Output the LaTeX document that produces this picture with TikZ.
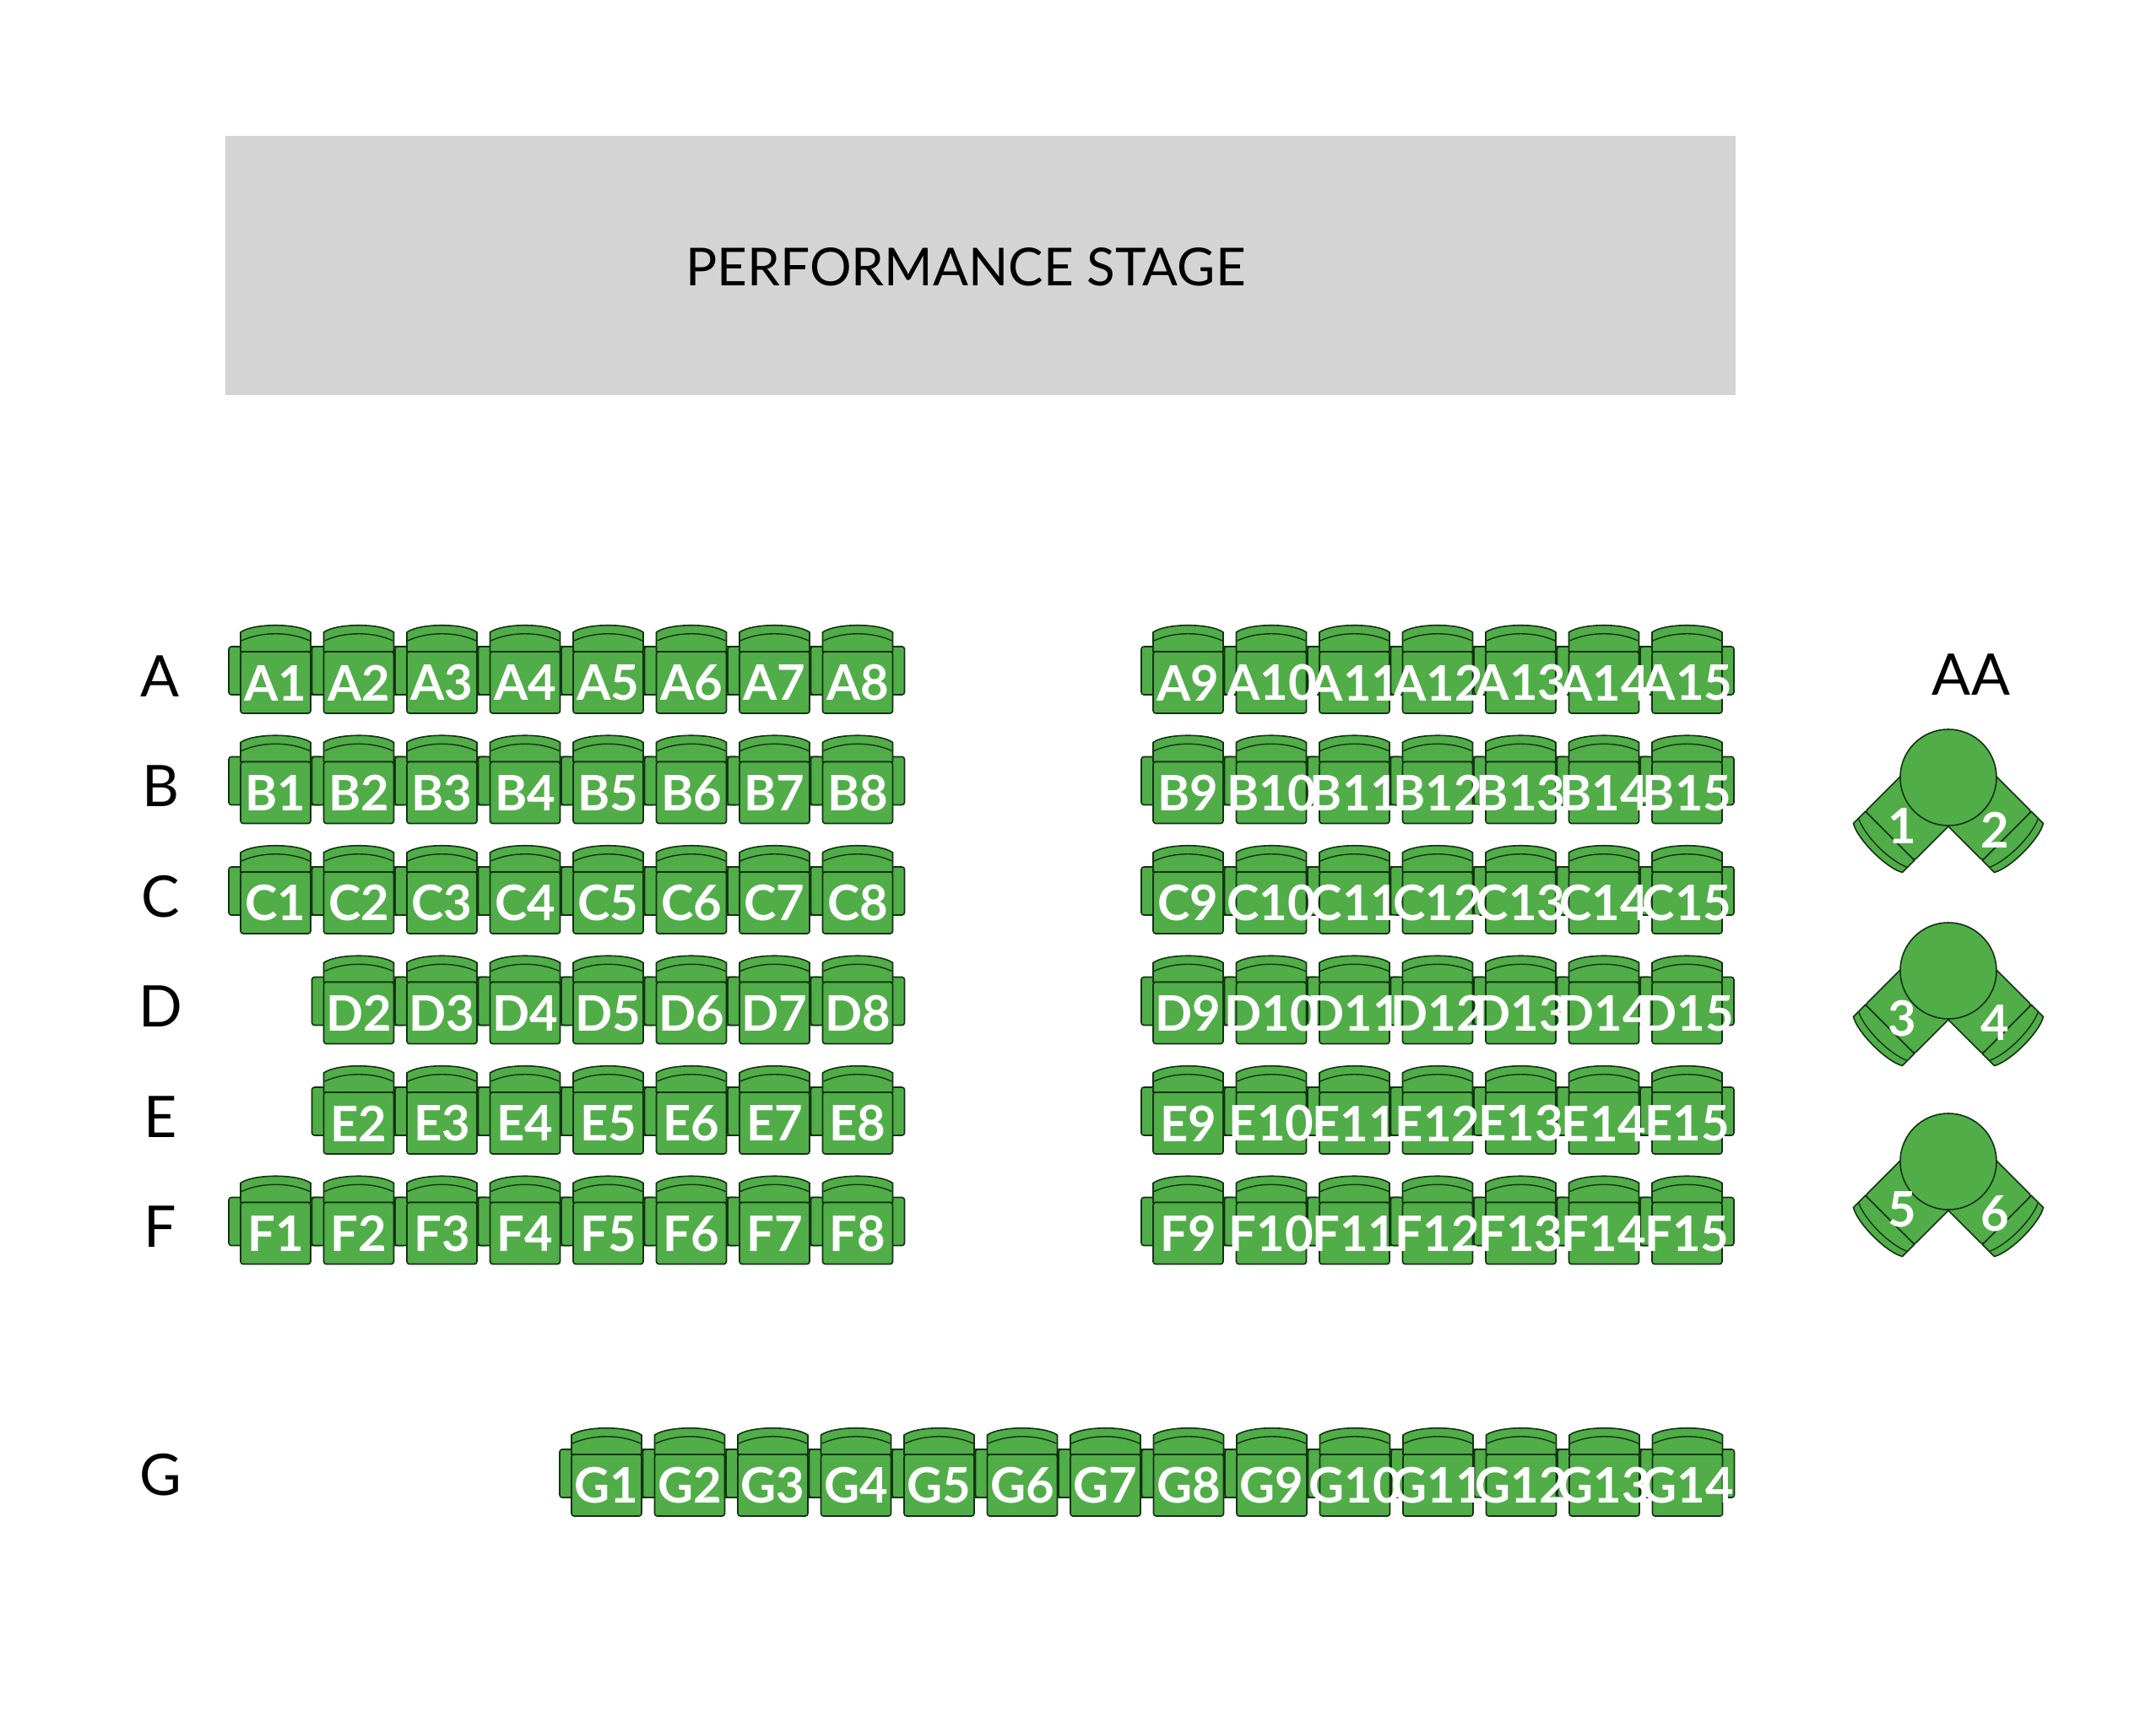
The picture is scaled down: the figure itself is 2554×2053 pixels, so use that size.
\documentclass[tikz,border=0pt]{standalone}
\usepackage{fontspec}
\setmainfont{Lato}
\definecolor{seatgreen}{RGB}{80,173,72}
\definecolor{seatline}{RGB}{20,50,20}
\definecolor{stagegray}{RGB}{212,212,212}
\tikzset{seatst/.style={fill=seatgreen,draw=seatline,line width=1.6pt},
 numst/.style={text=white,font=\fontsize{58}{60}\selectfont\bfseries},
 rowlab/.style={font=\fontsize{68}{70}\selectfont}}
\newcommand\arm[2]{\draw[seatst,rounded corners=3pt] (#1-14,#2+27) rectangle (#1+97,#2+84);}
\newcommand\chair[3]{%
 \draw[seatst] (#1,#2+33) -- (#1,#2+10) .. controls (#1+15,#2-1) and (#1+68,#2-1) .. (#1+83,#2+10) -- (#1+83,#2+33) -- cycle;
 \draw[seatline,line width=1.4pt] (#1+1,#2+20) .. controls (#1+25,#2+9) and (#1+58,#2+9) .. (#1+82,#2+20);
 \draw[seatst,rounded corners=3pt] (#1,#2+33) rectangle (#1+83,#2+106);
 \node[numst] (s#3) at (#1+41.5,#2+70) {#3};}
\newcommand\seatrow[5]{% firstx, y, from, to, rowname
 \foreach \n in {#3,...,#4}{\pgfmathsetmacro\xx{#1+(\n-#3)*98.5}\arm{\xx}{#2}}
 \foreach \n in {#3,...,#4}{\pgfmathsetmacro\xx{#1+(\n-#3)*98.5}\chair{\xx}{#2}{#5\n}}}
\newcommand\tabseat[1]{%
 \begin{scope}[rotate=#1]
 \draw[seatst,rounded corners=3pt] (-41,10) rectangle (41,98);
 \draw[seatst] (-41,98) -- (-41,118) .. controls (-25,128) and (25,128) .. (41,118) -- (41,98) -- cycle;
 \draw[seatline,line width=1.4pt] (-40,110) .. controls (-20,119) and (20,119) .. (40,110);
 \end{scope}}
\newcommand\tabgroup[4]{% cx cy n1 n2
 \begin{scope}[shift={(#1,#2)}]
 \tabseat{45}\tabseat{-45}
 \draw[seatst] (0,0) circle (57);
 \node[numst] (t#3) at (-55,57) {#3};
 \node[numst] (t#4) at (55,62) {#4};
 \end{scope}}
\begin{document}
\begin{tikzpicture}[x=1pt,y=-1pt]
\useasboundingbox (0,0) rectangle (2554,2053);
\fill[white] (0,0) rectangle (2554,2053);
\node[fill=stagegray,minimum width=1789pt,minimum height=307pt,anchor=north west,inner sep=0] (stage) at (267,161) {};
\node[font=\fontsize{62}{64}\selectfont] (stagetxt) at (1144,316) {PERFORMANCE STAGE};
\foreach \r/\i in {A/0,B/1,C/2,D/3,E/4,F/5}{
 \pgfmathsetmacro\yy{739+\i*130.5}
 \node[rowlab] (lab\r) at (190,\yy+62) {\r};
 \seatrow{1366}{\yy}{9}{15}{\r}
}
\foreach \r/\i in {A/0,B/1,C/2,F/5}{\pgfmathsetmacro\yy{739+\i*130.5}\seatrow{285}{\yy}{1}{8}{\r}}
\foreach \r/\i in {D/3,E/4}{\pgfmathsetmacro\yy{739+\i*130.5}\seatrow{383.5}{\yy}{2}{8}{\r}}
\node[rowlab] (labG) at (190,1747) {G};
\seatrow{677}{1690}{1}{14}{G}
\node[rowlab] (labAA) at (2335,799) {AA};
\tabgroup{2308}{921}{1}{2}
\tabgroup{2308}{1150}{3}{4}
\tabgroup{2308}{1376}{5}{6}
\end{tikzpicture}
\end{document}
